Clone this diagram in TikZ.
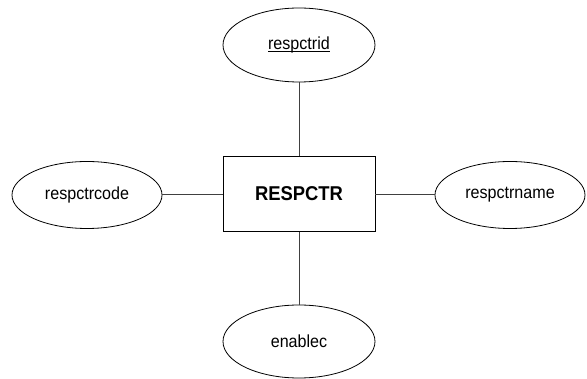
\documentclass[tikz,border=0pt]{standalone}
\usepackage{fontspec}
\setmainfont{Liberation Sans}
\newfontfamily\ersans[FakeStretch=0.92]{Liberation Sans}
\usetikzlibrary{shapes.geometric}
\newcommand\attrul[1]{\setbox0\hbox{#1}\rlap{\rule[-0.17em]{\wd0}{0.06em}}\box0}
\tikzset{
  attr/.style={draw=black, line width=0.8pt, ellipse, inner sep=0pt,
    font=\ersans\fontsize{17.5}{20}\selectfont},
  entity/.style={draw=black, line width=0.8pt, rectangle, inner sep=0pt,
    minimum width=152pt, minimum height=75pt,
    font=\ersans\bfseries\fontsize{20}{24}\selectfont},
  link/.style={draw=black!75, line width=0.8pt}
}
\begin{document}
\begin{tikzpicture}[x=1pt,y=-1pt]
\useasboundingbox (0,0) rectangle (587,379);
\node[entity] (e) at (299,194) {RESPCTR};
\node[attr, minimum width=152pt, minimum height=74pt] (id) at (299,45) {\attrul{respctrid}};
\node[attr, minimum width=152pt, minimum height=73pt] (en) at (299,341.5) {enablec};
\node[attr, minimum width=150pt, minimum height=67pt] (code) at (87,195) {respctrcode};
\node[attr, minimum width=150pt, minimum height=67pt] (name) at (510,195) {respctrname};
\draw[link] (e.north) -- (id.south);
\draw[link] (e.south) -- (en.north);
\draw[link] (e.west) -- (e.west -| code.east);
\draw[link] (e.east) -- (e.east -| name.west);
\end{tikzpicture}
\end{document}
